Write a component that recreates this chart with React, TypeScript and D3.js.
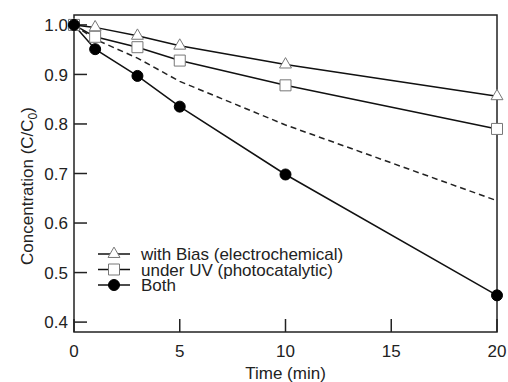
import { useRef, useEffect } from "react";
import * as d3 from "d3";

const times = [0, 1, 3, 5, 10, 20];
const biasValues = [1.0, 0.995, 0.978, 0.958, 0.92, 0.856];
const uvValues = [1.0, 0.976, 0.955, 0.928, 0.878, 0.79];
const bothValues = [1.0, 0.951, 0.897, 0.835, 0.698, 0.454];
const dashedValues = [1.0, 0.971, 0.933, 0.886, 0.798, 0.645];
const xTicks = [0, 5, 10, 15, 20];
const yTicks = [0.4, 0.5, 0.6, 0.7, 0.8, 0.9, 1.0];
const legendLabels = ["with Bias (electrochemical)", "under UV (photocatalytic)", "Both"];

const W = 508, H = 382;
const FONT = "'Liberation Sans', Arial, Helvetica, sans-serif";

export default function App() {
  const svgRef = useRef<SVGSVGElement>(null);

  useEffect(() => {
    document.body.style.margin = "0";
    if (!svgRef.current) return;
    const svg = d3.select(svgRef.current);
    svg.selectAll("*").remove();

    const left = 74, right = 497, top = 15, bottom = 332;
    const x = d3.scaleLinear().domain([0, 20]).range([left, right]);
    const y = d3.scaleLinear().domain([0.38, 1.02]).range([bottom, top]);

    const line = d3.line<number>()
      .x((_, i) => x(times[i]))
      .y(d => y(d));

    // frame
    svg.append("rect")
      .attr("x", left).attr("y", top).attr("width", right - left).attr("height", bottom - top)
      .attr("fill", "none").attr("stroke", "#222").attr("stroke-width", 1.5);

    // ticks
    svg.append("g").selectAll("line").data(yTicks).enter().append("line")
      .attr("x1", left).attr("x2", left + 13)
      .attr("y1", d => y(d)).attr("y2", d => y(d))
      .attr("stroke", "#222").attr("stroke-width", 1.5);
    svg.append("g").selectAll("line").data(xTicks).enter().append("line")
      .attr("x1", d => x(d)).attr("x2", d => x(d))
      .attr("y1", bottom).attr("y2", bottom - 13)
      .attr("stroke", "#222").attr("stroke-width", 1.5);

    // tick labels
    svg.append("g").selectAll("text").data(yTicks).enter().append("text")
      .attr("x", left - 6).attr("y", d => y(d)).attr("dy", "0.36em")
      .attr("text-anchor", "end").attr("font-family", FONT).attr("font-size", 17).attr("fill", "#222")
      .text(d => d.toFixed(1));
    svg.append("g").selectAll("text").data(xTicks).enter().append("text")
      .attr("x", d => x(d)).attr("y", 357)
      .attr("text-anchor", "middle").attr("font-family", FONT).attr("font-size", 17).attr("fill", "#222")
      .text(d => String(d));

    // axis titles
    svg.append("text")
      .attr("x", (left + right) / 2).attr("y", 379)
      .attr("text-anchor", "middle").attr("font-family", FONT).attr("font-size", 17).attr("fill", "#222")
      .text("Time (min)");
    const yl = svg.append("text")
      .attr("transform", `translate(33,186) rotate(-90)`)
      .attr("text-anchor", "middle").attr("font-family", FONT).attr("font-size", 17).attr("fill", "#222");
    yl.append("tspan").text("Concentration (C/C");
    yl.append("tspan").attr("font-size", 12).attr("dy", 4).text("0");
    yl.append("tspan").attr("dy", -4).text(")");

    // dashed reference
    svg.append("path").datum(dashedValues)
      .attr("d", line).attr("fill", "none").attr("stroke", "#222")
      .attr("stroke-width", 1.5).attr("stroke-dasharray", "6,4");

    const series = [
      { values: biasValues, type: d3.symbolTriangle, size: 62, fill: "#fff", stroke: "#777" },
      { values: uvValues, type: d3.symbolSquare, size: 121, fill: "#fff", stroke: "#777" },
      { values: bothValues, type: d3.symbolCircle, size: 95, fill: "#000", stroke: "#000" },
    ];

    series.forEach(s => {
      svg.append("path").datum(s.values)
        .attr("d", line).attr("fill", "none").attr("stroke", "#111").attr("stroke-width", 1.5);
    });
    series.forEach(s => {
      const sym = d3.symbol().type(s.type).size(s.size);
      svg.append("g").selectAll("path").data(s.values).enter().append("path")
        .attr("d", sym)
        .attr("transform", (d, i) => `translate(${x(times[i])},${y(d)})`)
        .attr("fill", s.fill).attr("stroke", s.stroke).attr("stroke-width", 1);
    });

    // legend
    const legendY = [254, 269.5, 285];
    series.forEach((s, i) => {
      const g = svg.append("g").attr("transform", `translate(0,${legendY[i]})`);
      g.append("line").attr("x1", 98).attr("x2", 130).attr("y1", 0).attr("y2", 0)
        .attr("stroke", "#111").attr("stroke-width", 1.5);
      g.append("path").attr("d", d3.symbol().type(s.type).size(s.size)())
        .attr("transform", "translate(114,0)")
        .attr("fill", s.fill).attr("stroke", s.stroke).attr("stroke-width", 1);
      g.append("text").attr("x", 141).attr("y", 0).attr("dy", "0.36em")
        .attr("font-family", FONT).attr("font-size", 17).attr("fill", "#222")
        .text(legendLabels[i]);
    });
  }, []);

  return <svg ref={svgRef} width={W} height={H} style={{ display: "block", background: "#fff" }} />;
}
